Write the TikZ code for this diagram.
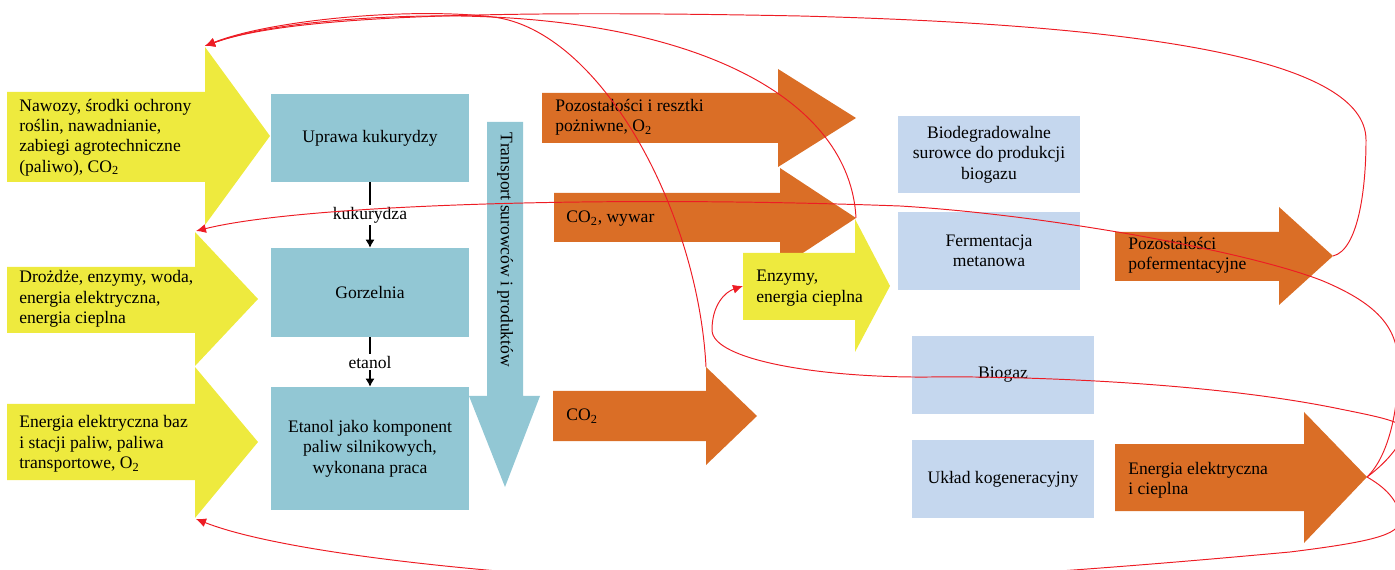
\documentclass[tikz,border=0pt]{standalone}
\usepackage{fontspec}
\setmainfont{Liberation Serif}
\usepackage{tikz}
\usetikzlibrary{arrows.meta,positioning}

\definecolor{arrowyellow}{RGB}{238,234,62}
\definecolor{arroworange}{RGB}{218,110,38}
\definecolor{boxteal}{RGB}{146,199,212}
\definecolor{boxblue}{RGB}{197,215,238}
\definecolor{linered}{RGB}{237,28,36}

\begin{document}
\begin{tikzpicture}[
        x=0.02cm, y=-0.02cm,
        txt/.style={font=\fontsize{10}{11.6}\selectfont, inner sep=0pt},
        lefttxt/.style={txt, anchor=west, align=left},
        procbox/.style={
            rectangle,
            fill=boxteal,
            align=center,
            minimum width=3.96cm,
            txt
        },
        biobox/.style={
            rectangle,
            fill=boxblue,
            align=center,
            minimum width=3.64cm,
            minimum height=1.56cm,
            txt
        },
        yarrow/.style={fill=arrowyellow},
        oarrow/.style={fill=arroworange},
        tarrow/.style={fill=boxteal},
        flow/.style={-{Latex[length=1.6mm, width=1.8mm]}, line width=0.6pt},
        backflow/.style={draw=linered, line width=0.55pt, -{Latex[length=2mm, width=1.8mm]}}
    ]
    \clip (0,0) rectangle (1395,570);

    % wejscia (zolte)
    \fill[yarrow] (7,92) -- (205,92) -- (205,47) -- (270,136) -- (205,225) -- (205,182) -- (7,182) -- cycle;
    \fill[yarrow] (7,267) -- (195,267) -- (195,232) -- (258,299) -- (195,366) -- (195,333) -- (7,333) -- cycle;
    \fill[yarrow] (7,404) -- (195,404) -- (195,367) -- (258,442) -- (195,518) -- (195,480) -- (7,480) -- cycle;
    \coordinate (nawozytop) at (205,46);
    \coordinate (drozdzetop) at (196,231);
    \coordinate (bazbottom) at (196,519);

    \node[lefttxt] (nawozy) at (19,137.5) {Nawozy, środki ochrony\\roślin, nawadnianie,\\zabiegi agrotechniczne\\(paliwo), CO\textsubscript{2}};
    \node[lefttxt] (drozdze) at (19,299) {Drożdże, enzymy, woda,\\energia elektryczna,\\energia cieplna};
    \node[lefttxt] (baz) at (19,444) {Energia elektryczna baz\\i stacji paliw, paliwa\\transportowe, O\textsubscript{2}};

    % proces etanolu
    \node[procbox, minimum height=1.76cm] (uprawa) at (370,138) {Uprawa kukurydzy};
    \node[procbox, minimum height=1.78cm] (gorzelnia) at (370,292.5) {Gorzelnia};
    \node[procbox, minimum height=2.46cm] (etanol) at (370,448.5) {Etanol jako komponent\\paliw silnikowych,\\wykonana praca};

    \draw[flow] (uprawa) -- node[txt, fill=white, inner sep=1pt] {kukurydza} (gorzelnia);
    \draw[flow] (gorzelnia) -- node[txt, fill=white, inner sep=1pt] {etanol} (etanol);

    % transport
    \fill[tarrow] (487,122) -- (523,122) -- (523,396) -- (540,396) -- (505,487) -- (469,396) -- (487,396) -- cycle;
    \node[txt, rotate=-90] (transport) at (505,250) {Transport surowców i produktów};

    % wyjscia (pomaranczowe)
    \fill[oarrow] (542,93) -- (778,93) -- (778,69) -- (856,118) -- (778,167) -- (778,143) -- (542,143) -- cycle;
    \fill[oarrow] (554,193) -- (780,193) -- (780,168) -- (856,218) -- (780,268) -- (780,242) -- (554,242) -- cycle;
    \fill[oarrow] (553,391) -- (706,391) -- (706,367) -- (757,416) -- (706,465) -- (706,441) -- (553,441) -- cycle;
    \fill[yarrow] (743,253) -- (855,253) -- (855,219) -- (890,286) -- (855,352) -- (855,320) -- (743,320) -- cycle;
    \coordinate (wywartip) at (856,218);
    \coordinate (co2top) at (706,367);
    \coordinate (enzymyleft) at (743,286);

    \node[lefttxt] (resztki) at (555,117) {Pozostałości i resztki\\pożniwne, O\textsubscript{2}};
    \node[lefttxt] (wywar) at (566,219) {CO\textsubscript{2}, wywar};
    \node[lefttxt] (co2) at (566,416) {CO\textsubscript{2}};
    \node[lefttxt] (enzymy) at (756,288) {Enzymy,\\energia cieplna};

    % biogazownia
    \node[biobox, minimum height=1.54cm] (surowce) at (989,154.5) {Biodegradowalne\\surowce do produkcji\\biogazu};
    \node[biobox] (fermentacja) at (989,251) {Fermentacja\\metanowa};
    \node[biobox] (biogaz) at (1003,375) {Biogaz};
    \node[biobox] (kogeneracja) at (1003,479) {Układ kogeneracyjny};

    \fill[oarrow] (1115,232) -- (1279,232) -- (1279,207) -- (1333,256) -- (1279,305) -- (1279,281) -- (1115,281) -- cycle;
    \fill[oarrow] (1115,444) -- (1304,444) -- (1304,412) -- (1367,477) -- (1304,543) -- (1304,511) -- (1115,511) -- cycle;
    \coordinate (pofermtip) at (1333,256);
    \coordinate (energiatip) at (1367,477);

    \node[lefttxt] (poferm) at (1128,255) {Pozostałości\\pofermentacyjne};
    \node[lefttxt] (energia) at (1128,480) {Energia elektryczna\\i cieplna};

    % zawracanie
    \draw[backflow] (co2top) .. controls (698,210) and (600,30) .. (493,17)
        .. controls (410,7) and (270,20) .. (nawozytop);
    \draw[backflow] (wywartip) .. controls (850,100) and (700,20) .. (460,16)
        .. controls (380,15) and (270,22) .. (nawozytop);
    \draw[backflow] (pofermtip) .. controls (1358,250) and (1366,190) .. (1366,140)
        .. controls (1366,60) and (1150,25) .. (800,16)
        .. controls (500,10) and (290,15) .. (nawozytop);
    \draw[backflow] (energiatip) .. controls (1385,460) and (1398,420) .. (1398,370)
        .. controls (1400,330) and (1380,305) .. (1323,281)
        .. controls (1250,252) and (1050,215) .. (900,206)
        .. controls (600,195) and (300,205) .. (drozdzetop);
    \draw[backflow] (energiatip) .. controls (1390,460) and (1404,440) .. (1404,430)
        .. controls (1404,422) and (1380,417) .. (1340,409)
        .. controls (1200,380) and (1000,376) .. (930,377)
        .. controls (820,378) and (712,360) .. (712,330)
        .. controls (712,305) and (725,292) .. (enzymyleft);
    \draw[backflow] (energiatip) .. controls (1390,490) and (1400,505) .. (1400,520)
        .. controls (1400,535) and (1370,542) .. (1290,552)
        .. controls (1180,562) and (1000,578) .. (800,585)
        .. controls (600,585) and (300,560) .. (bazbottom);
\end{tikzpicture}
\end{document}
